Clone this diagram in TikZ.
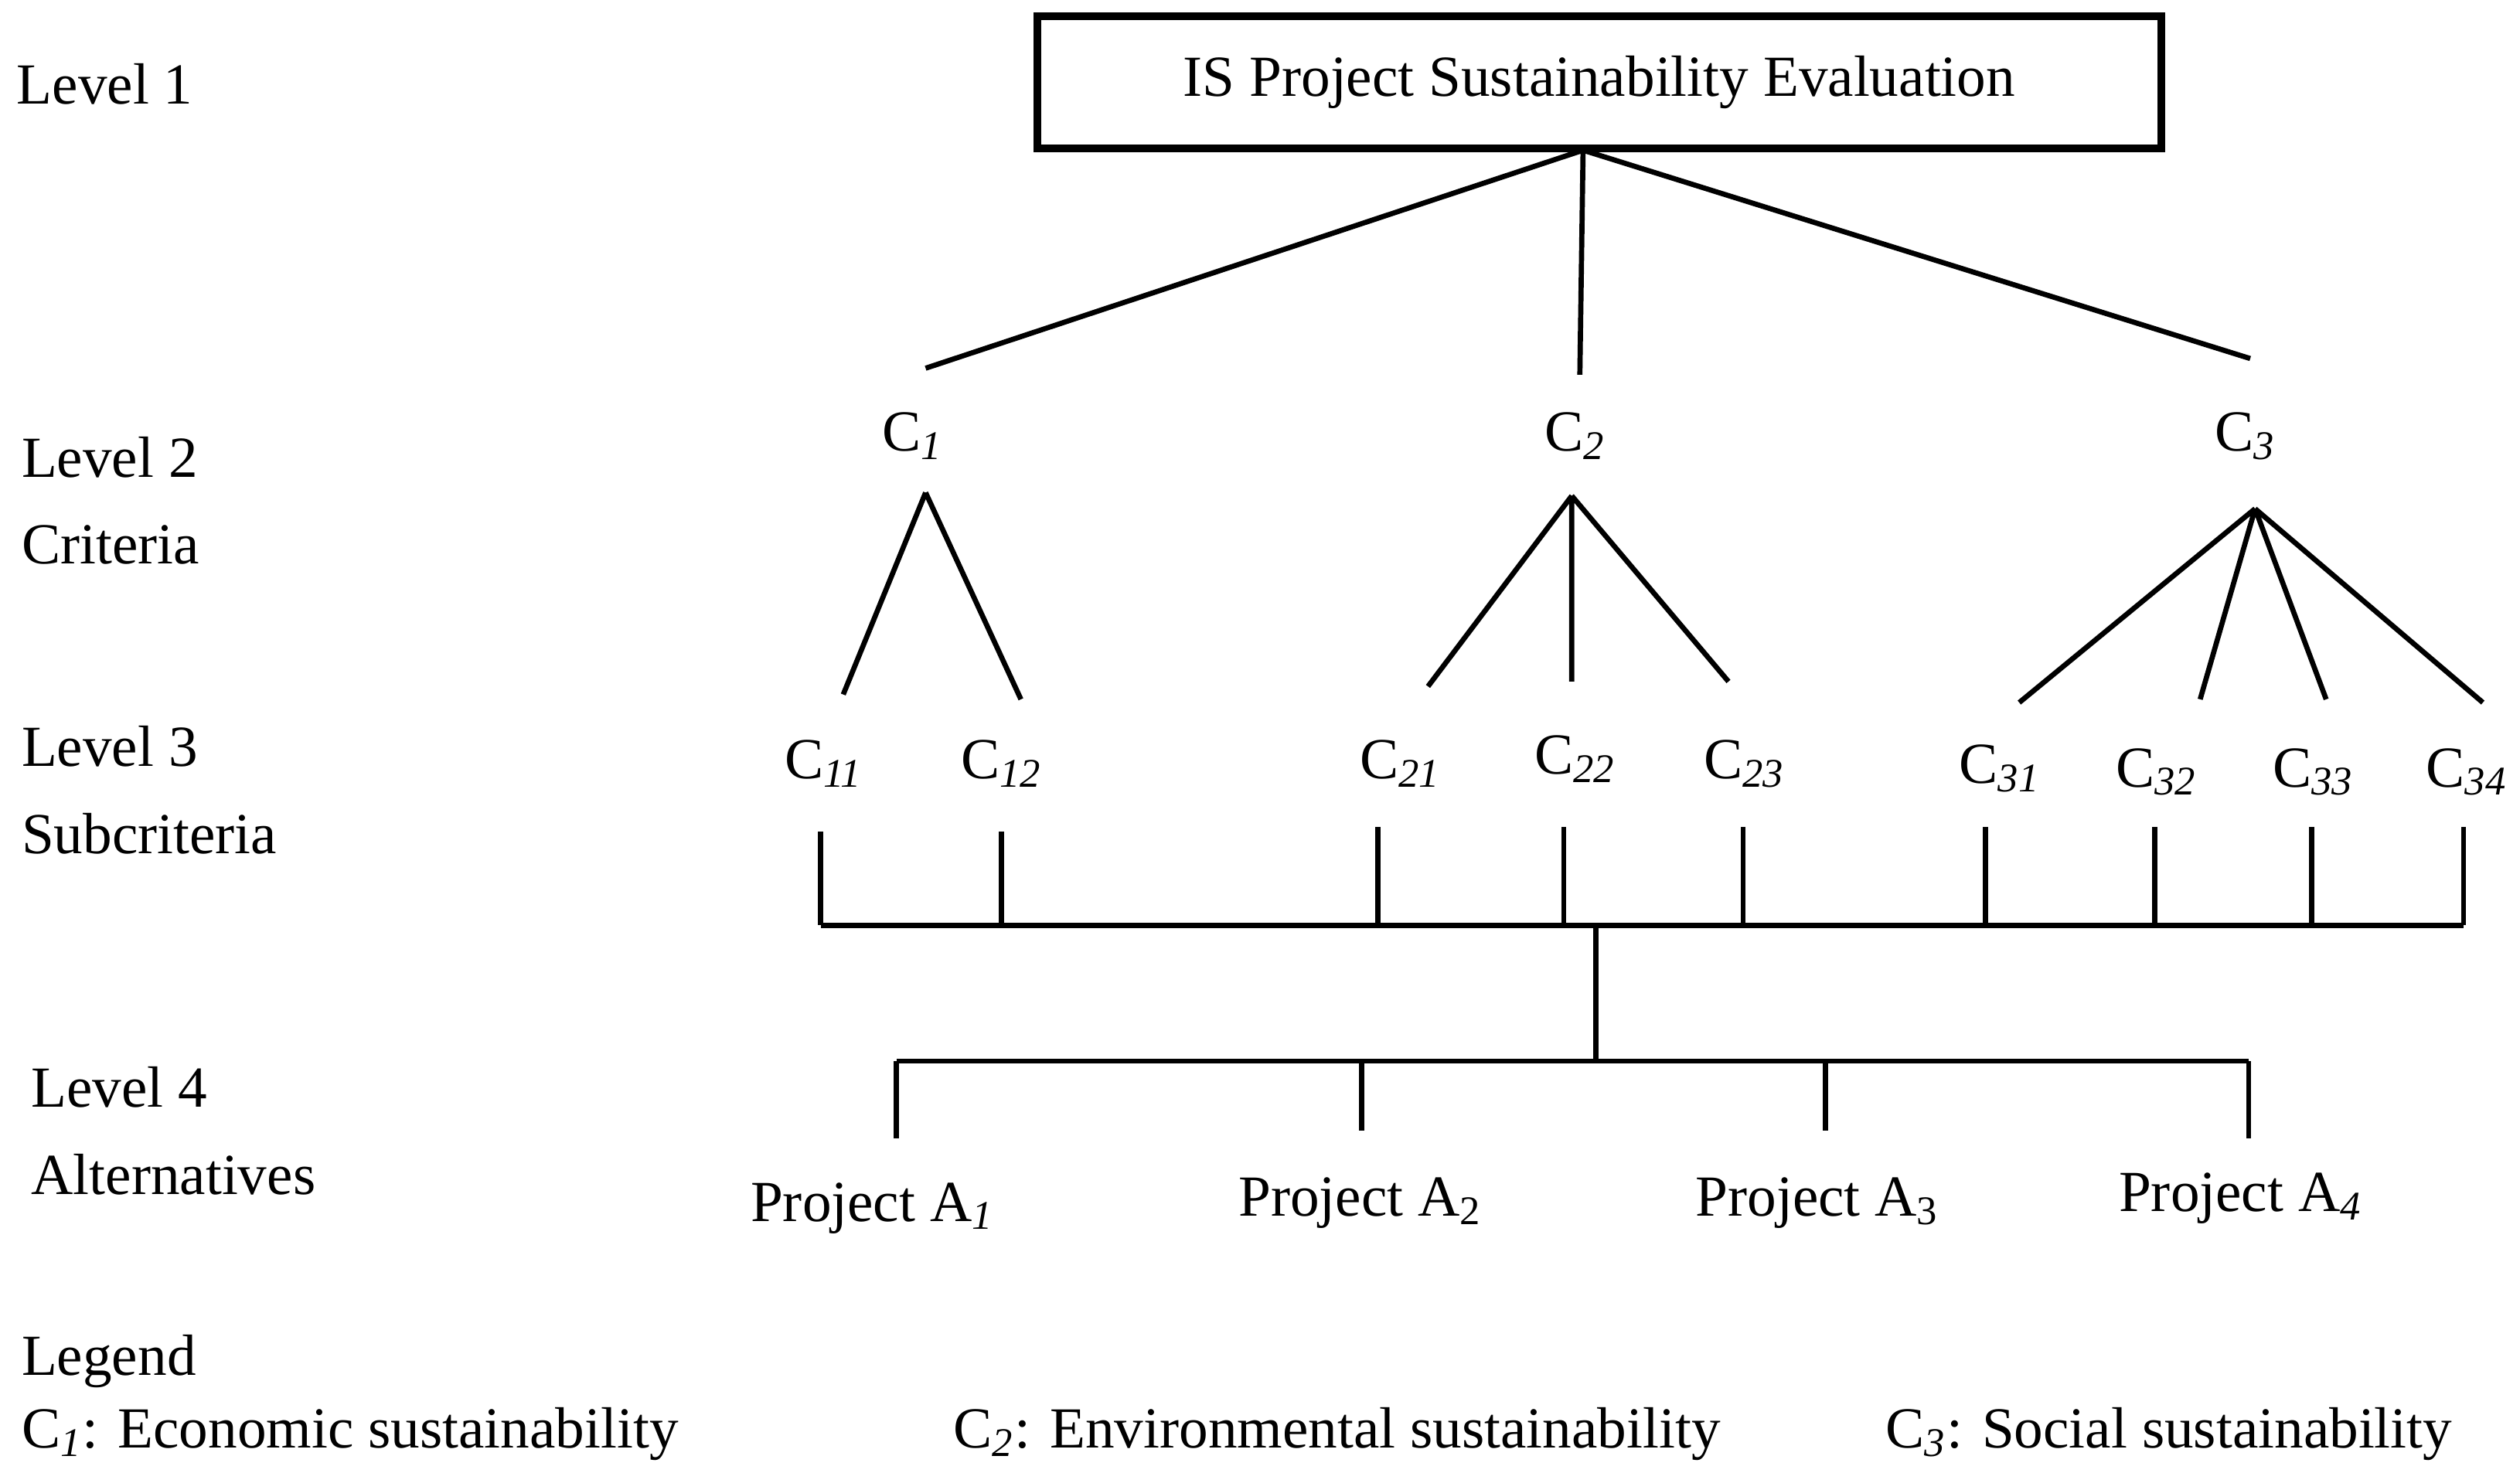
\documentclass[tikz,border=0pt]{standalone}
\usepackage{fontspec}
\setmainfont{Liberation Serif}
\newcommand{\sbi}[1]{\textsubscript{\textit{#1}}}
\newcommand{\sbn}[1]{\textsubscript{#1}}
\begin{document}
\begin{tikzpicture}[x=0.5pt,y=-0.5pt,
  lbl/.style={font=\fontsize{18}{21}\selectfont,inner sep=0pt},
  lft/.style={lbl,anchor=west,align=left},
  ln/.style={line width=1.6pt}]
\useasboundingbox (0,0) rectangle (1560,912);
\node[draw,line width=2.4pt,minimum width=696\pgflinewidth,lbl,minimum width=348pt,minimum height=41pt] (top) at (990,51) {IS Project Sustainability Evaluation};
\coordinate (tb) at (980,93);
\node[lbl] (c1) at (565,270) {C\sbi{1}};
\node[lbl] (c2) at (975,270) {C\sbi{2}};
\node[lbl] (c3) at (1390,270) {C\sbn{\textit{3}}};
\coordinate (c1t) at (573,228); \coordinate (c2t) at (978,232); \coordinate (c3t) at (1393,222);
\draw[ln] (tb)--(c1t) (tb)--(c2t) (tb)--(c3t);
\coordinate (a1) at (573,305); \coordinate (a2) at (973,307); \coordinate (a3) at (1396,315);
\draw[ln] (a1)--(522,430) (a1)--(632,433);
\draw[ln] (a2)--(884,425) (a2)--(973,422) (a2)--(1070,422);
\draw[ln] (a3)--(1250,435) (a3)--(1362,433) (a3)--(1440,433) (a3)--(1537,435);
\foreach \n/\x/\y/\s in {c11/510/473/11,c12/620/473/12,c21/867/473/21,c22/975/470/22,c23/1080/473/23,c31/1238/476/31,c32/1335/478/32,c33/1432/478/33,c34/1527/478/34}
  \node[lbl] (\n) at (\x,\y) {C\sbi{\s}};
\coordinate (hl) at (508,573); \coordinate (hr) at (1525,573);
\draw[ln] (hl)--(hr);
\foreach \x/\y in {508/515,620/515,853/512,968/512,1079/512,1229/512,1334/512,1431/512,1525/512}
  \draw[ln] (\x,\y)--(\x,573);
\coordinate (s1) at (988,573); \coordinate (s2) at (988,657);
\draw[ln] (s1)--(s2);
\draw[ln] (555,657)--(1392,657);
\draw[ln] (555,657)--(555,705) (843,657)--(843,700) (1130,657)--(1130,700) (1392,657)--(1392,705);
\node[lbl] (p1) at (540,748) {Project A\sbi{1}};
\node[lbl] (p2) at (842,745) {Project A\sbn{2}};
\node[lbl] (p3) at (1125,745) {Project A\sbn{3}};
\node[lbl] (p4) at (1387,742) {Project A\sbi{4}};
\node[lft] (l1) at (10,52) {Level 1};
\node[lft] (l2) at (13,310) {Level 2\\[6pt]Criteria};
\node[lft] (l3) at (13,489) {Level 3\\[6pt]Subcriteria};
\node[lft] (l4) at (19,700) {Level 4\\[6pt]Alternatives};
\node[lft] (lg) at (13,843) {Legend};
\node[lft] (g1) at (13,888) {C\sbi{1}: Economic sustainability};
\node[lft] (g2) at (590,888) {C\sbi{2}: Environmental sustainability};
\node[lft] (g3) at (1167,888) {C\sbi{3}: Social sustainability};
\end{tikzpicture}
\end{document}
